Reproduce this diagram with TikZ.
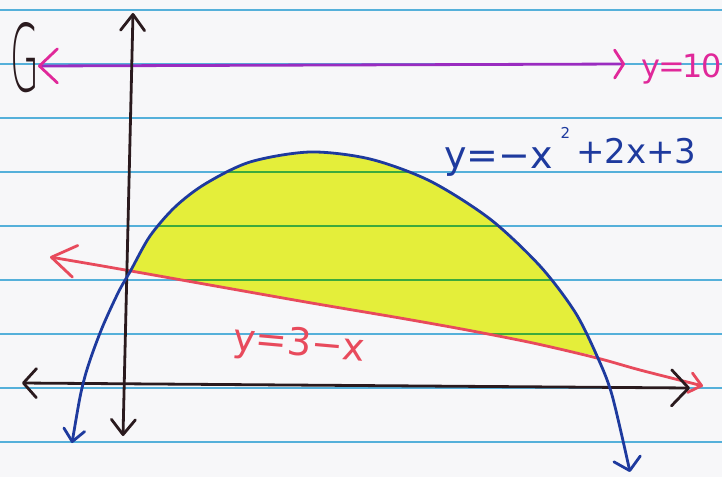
\documentclass[tikz,border=0pt]{standalone}
\usepackage{fontspec}
\usepackage{graphicx}
\setmainfont{DejaVu Sans}
\IfFontExistsTF{DejaVu Sans ExtraLight}{\newfontfamily\thinhand{DejaVu Sans ExtraLight}}{\newfontfamily\thinhand{DejaVu Sans}}
\usetikzlibrary{arrows.meta}
\definecolor{paper}{HTML}{F7F7F9}
\definecolor{rule}{HTML}{55B0DA}
\definecolor{rulegreen}{HTML}{3CAA3C}
\definecolor{hl}{HTML}{E4EE3A}
\definecolor{pen}{HTML}{1E3A9E}
\definecolor{redpen}{HTML}{E84A5C}
\definecolor{ink}{HTML}{2A1A1E}
\definecolor{violetpen}{HTML}{9A2CC0}
\definecolor{magpen}{HTML}{E0289A}
\begin{document}
\begin{tikzpicture}[x=1pt,y=-1pt,
  rulestyle/.style={line width=1.8pt},
  penline/.style={line width=2.8pt, line cap=round, line join=round},
  handtext/.style={inner sep=0pt, outer sep=0pt}]
\useasboundingbox (0,0) rectangle (722,477);
\fill[paper] (0,0) rectangle (722,477);
% notebook rules
\foreach \k in {0,...,8} \draw[rule, rulestyle] (0,{10+54*\k}) -- (722,{10+54*\k});
% shaded region
\fill[hl] (131,270) -- plot[smooth] coordinates {(131,270) (150,236) (175,207) (205,184) (250,162) (310,152) (370,159) (430,181) (490,219) (540,266) (575,312) (597,356)}
  -- plot[smooth] coordinates {(597,356) (533,343) (467,330) (400,318) (300,301) (131,271)} -- cycle;
\begin{scope}
\clip (131,270) -- plot[smooth] coordinates {(131,270) (150,236) (175,207) (205,184) (250,162) (310,152) (370,159) (430,181) (490,219) (540,266) (575,312) (597,356)}
  -- plot[smooth] coordinates {(597,356) (533,343) (467,330) (400,318) (300,301) (131,271)} -- cycle;
\foreach \k in {0,...,8} \draw[rulegreen, rulestyle] (0,{10+54*\k}) -- (722,{10+54*\k});
\end{scope}
% y = 10
\coordinate (pl) at (38,66);
\coordinate (pr) at (625,64);
\draw[violetpen, penline, arrows={Straight Barb[round,color=magpen,length=18pt,width=34pt]-Straight Barb[round,color=magpen,length=9pt,width=28pt]}] (pl) -- (pr);
% y = 3 - x
\draw[redpen, penline, arrows={Straight Barb[round,length=24pt,width=32pt]-Straight Barb[round,length=12pt,width=20pt]}]
  plot[smooth] coordinates {(50,257) (131,271) (300,301) (400,318) (467,330) (533,343) (597,358) (640,370) (703,386)};
% axes
\coordinate (ytop) at (133,13);
\coordinate (ybot) at (123,436);
\coordinate (xl) at (22,383);
\coordinate (xr) at (690,388);
\draw[ink, penline, arrows={Straight Barb[round,length=16pt,width=24pt]-Straight Barb[round,length=15pt,width=24pt]}] (ytop) -- (ybot);
\draw[ink, penline, arrows={Straight Barb[round,length=13pt,width=29pt]-Straight Barb[round,length=17pt,width=36pt]}] (xl) -- (xr);
% parabola
\draw[pen, penline, arrows={Straight Barb[round,length=12pt,width=21pt]-Straight Barb[round,length=12pt,width=27pt]}]
  plot[smooth] coordinates {(72,443) (84,380) (100,333) (118,293) (131,270) (150,236) (175,207) (205,184) (250,162) (310,152) (370,159) (430,181) (490,219) (540,266) (575,312) (597,356) (612,395) (630,472)};
% labels
\node[handtext, text=ink, anchor=base] (glabel) at (25,91) {\thinhand\fontsize{93}{93}\selectfont\scalebox{0.4}[1]{G}};
\node[handtext, text=magpen, anchor=base west] (tenlabel) at (641,77) {\fontsize{32}{32}\selectfont\addfontfeature{LetterSpace=-6}y=10};
\node[handtext, text=pen, anchor=base west] (parlabel) at (444,168) {\fontsize{38}{38}\selectfont y=−x\hspace{8pt}\raisebox{30pt}{\fontsize{15}{15}\selectfont 2}\hspace{6pt}\raisebox{5pt}{\fontsize{34}{34}\selectfont +2x+3}};
\node[handtext, text=redpen, anchor=base west, rotate=-5] (linelabel) at (232,350) {\fontsize{38}{38}\selectfont y=3−x};
\end{tikzpicture}
\end{document}
